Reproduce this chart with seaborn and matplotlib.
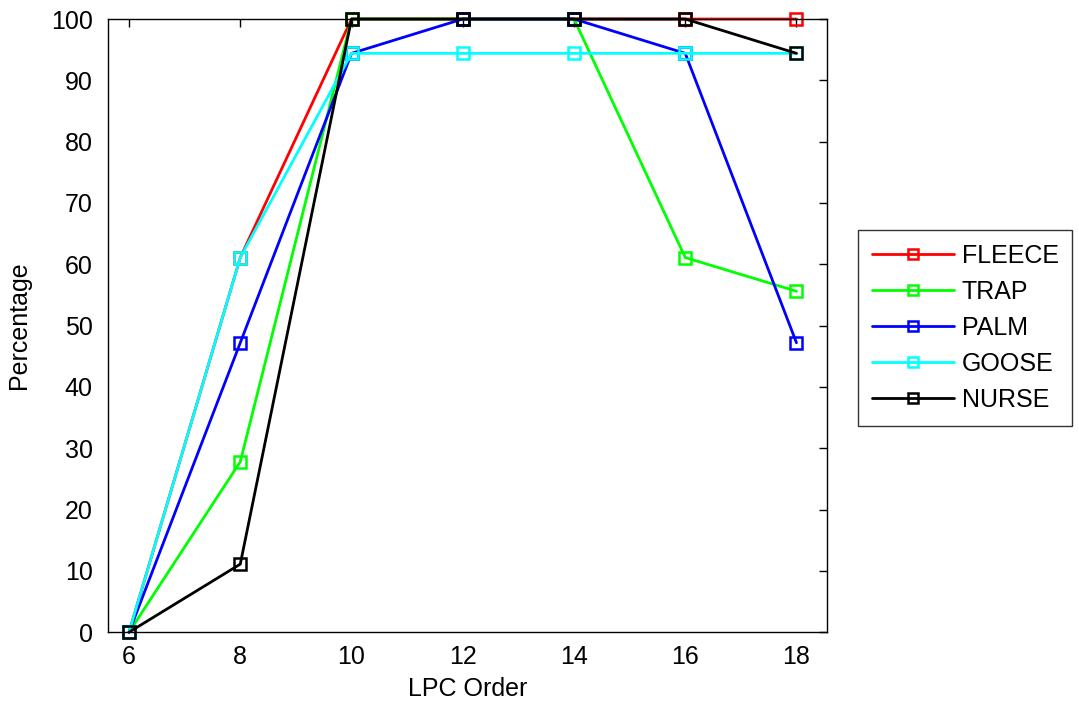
import matplotlib
matplotlib.use("Agg")
import matplotlib.pyplot as plt
from matplotlib.lines import Line2D
import seaborn as sns
import pandas as pd

# LPC orders and recognition percentages per word
lpc_order = [6, 8, 10, 12, 14, 16, 18]
fleece = [0, 61.1, 100, 100, 100, 100, 100]
trap = [0, 27.8, 100, 100, 100, 61.1, 55.6]
palm = [0, 47.2, 94.4, 100, 100, 94.4, 47.2]
goose = [0, 61.1, 94.4, 94.4, 94.4, 94.4, 94.4]
nurse = [0, 11.1, 100, 100, 100, 100, 94.4]

words = ["FLEECE", "TRAP", "PALM", "GOOSE", "NURSE"]
colors = ["#ff0000", "#00ff00", "#0000ff", "#00ffff", "#000000"]
series = [fleece, trap, palm, goose, nurse]

df = pd.concat(
    [pd.DataFrame({"LPC Order": lpc_order, "Percentage": vals, "Word": w})
     for w, vals in zip(words, series)],
    ignore_index=True,
)

sns.set_theme(style="white")
plt.rcParams["font.family"] = ["Liberation Sans", "DejaVu Sans"]
plt.rcParams["text.color"] = "black"
plt.rcParams["axes.labelcolor"] = "black"

fig = plt.figure(figsize=(10.79, 7.04), dpi=100)
ax = fig.add_axes([0.100, 0.102, 0.666, 0.871])

sns.lineplot(
    data=df, x="LPC Order", y="Percentage", hue="Word",
    hue_order=words, palette=colors, marker="s",
    markersize=9, markerfacecolor="none", markeredgewidth=1.8,
    linewidth=2, legend=False, ax=ax,
)
for ln, c in zip(ax.get_lines(), colors):
    ln.set_markeredgecolor(c)
    ln.set_clip_on(False)

ax.set_xlim(5.62, 18.54)
ax.set_ylim(0, 100)
ax.set_xticks(lpc_order)
ax.set_yticks(range(0, 101, 10))
ax.tick_params(direction="in", length=6, width=1, colors="black",
               labelsize=18, top=True, right=True)
ax.tick_params(axis="y", pad=11)
ax.tick_params(axis="x", pad=9)
for s in ax.spines.values():
    s.set_color("black")
    s.set_linewidth(1)
ax.set_xlabel("LPC Order", fontsize=18, labelpad=6)
ax.set_ylabel("Percentage", fontsize=18, labelpad=14)

handles = [
    Line2D([], [], color=c, linewidth=2, marker="s", markersize=7,
           markerfacecolor="none", markeredgecolor=c, markeredgewidth=1.8)
    for c in colors
]
leg = fig.legend(
    handles, words, loc="upper left", bbox_to_anchor=(0.795, 0.673),
    fontsize=18, frameon=True, fancybox=False, edgecolor="black",
    handlelength=3.3, labelspacing=0.48, borderpad=0.55,
    handletextpad=0.3, borderaxespad=0,
)
leg.get_frame().set_linewidth(1)

fig.savefig("out.png", dpi=100, facecolor="white")
